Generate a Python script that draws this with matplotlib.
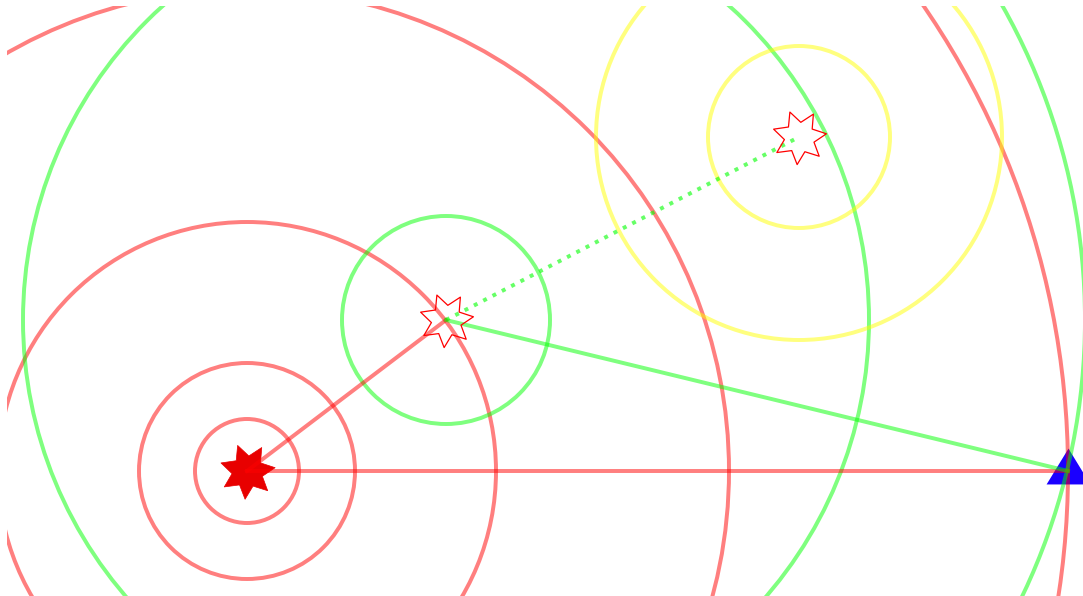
import numpy as np
import matplotlib
matplotlib.use('Agg')
import matplotlib.pyplot as plt
from matplotlib.patches import Circle
from matplotlib.path import Path

# Positions (pixel-like coordinates, y grows downward)
source = (247, 471)
image1 = (446, 320)
image2 = (799, 137)
receiver = (1068, 471)

# Wavefront radii around each point
red_radii = [52, 108, 249, 482, 821]
green_radii = [104, 423, 639]
yellow_radii = [91, 203]

fig = plt.figure(figsize=(10.83, 5.96), dpi=100)
ax = fig.add_axes([7 / 1083, 0, 1076 / 1083, 590 / 596])
ax.set_xlim(7, 1083)
ax.set_ylim(596, 6)
ax.axis('off')

lw = 2.85
for r in red_radii:
    ax.add_patch(Circle(source, r, fill=False, ec='red', alpha=0.5, lw=lw, zorder=3))
for r in green_radii:
    ax.add_patch(Circle(image1, r, fill=False, ec='lime', alpha=0.5, lw=lw, zorder=3))
for r in yellow_radii:
    ax.add_patch(Circle(image2, r, fill=False, ec='yellow', alpha=0.5, lw=lw, zorder=3))

# Ray paths
ax.plot([source[0], image1[0]], [source[1], image1[1]], color='red', alpha=0.5, lw=lw, zorder=4)
ax.plot([source[0], receiver[0]], [source[1], receiver[1]], color='red', alpha=0.5, lw=lw, zorder=4)
ax.plot([image1[0], receiver[0]], [image1[1], receiver[1]], color='lime', alpha=0.5, lw=lw, zorder=4)
ax.plot([image1[0], image2[0]], [image1[1], image2[1]], color='lime', alpha=0.6, lw=lw,
        ls=':', zorder=4)

# 7-pointed star marker, one point facing down, a bit fat
ang = np.deg2rad(-95 + np.arange(14) * 180 / 7)
rad = np.where(np.arange(14) % 2 == 0, 1.0, 0.56)
verts = np.column_stack([rad * np.cos(ang), rad * np.sin(ang)])
star = Path(np.vstack([verts, verts[:1]]), closed=True)

ax.plot(*source, marker=star, ms=40, color='#e80000', mec='#e80000', mew=0.5, zorder=2)
ax.plot(*image1, marker=star, ms=39, mfc='none', mec='red', mew=0.9, zorder=5)
ax.plot(*image2, marker=star, ms=39, mfc='none', mec='red', mew=0.9, zorder=5)
tri = [(0, 23), (-22, -13), (22, -13)]
ax.plot(*receiver, marker=tri, ms=33, color='#1a00ff', mew=0, zorder=2)

plt.savefig('out.png', dpi=100)
